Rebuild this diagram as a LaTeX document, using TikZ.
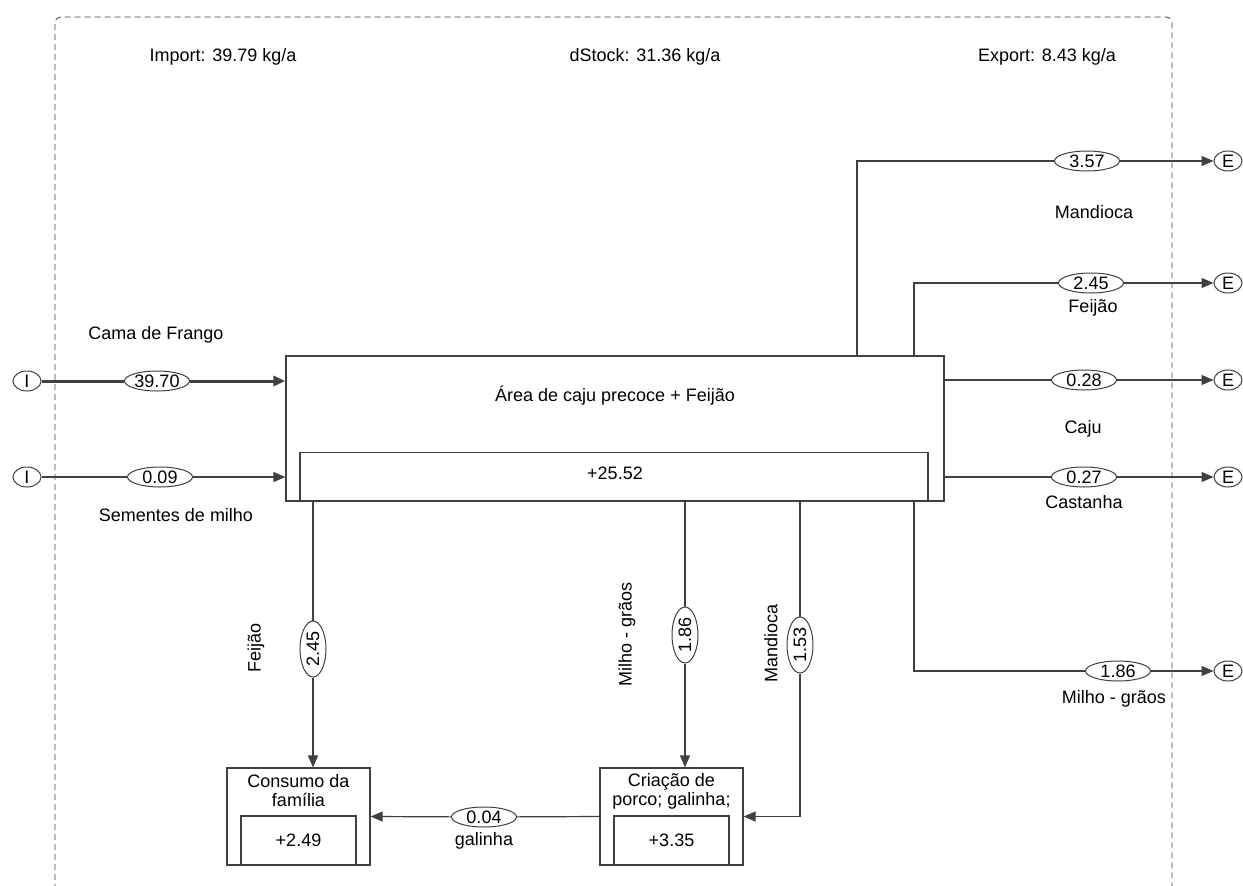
\documentclass[tikz,border=0pt]{standalone}
\usepackage{fontspec}
\setmainfont{Liberation Sans}
\usetikzlibrary{arrows.meta,calc,shapes.geometric}
\definecolor{LineClr}{rgb}{0.25,0.25,0.25}

\tikzset{
  flow/.style={draw=LineClr,line width=1.2pt},
  flowto/.style={flow,-{Triangle[length=12pt,width=10pt]}},
  val/.style={ellipse,draw=LineClr,line width=1pt,fill=white,inner sep=0pt,
    minimum width=65pt,minimum height=20pt},
  vval/.style={val,rotate=90,minimum width=56pt,minimum height=26pt},
  term/.style={ellipse,draw=LineClr,line width=1pt,inner sep=0pt,
    minimum width=28pt,minimum height=20pt},
  proc/.style={draw=LineClr,line width=1.2pt,minimum width=143pt,minimum height=97pt},
  stock/.style={draw=LineClr,line width=1.2pt,anchor=south,
    minimum width=115pt,minimum height=49pt},
  lbl/.style={inner sep=0pt}
}

\begin{document}
\begin{tikzpicture}[x=1pt,y=-1pt,font=\fontsize{18}{19}\selectfont]
\useasboundingbox (0,0) rectangle (1243,886);

\draw[LineClr,line width=0.8pt,dash pattern=on 6pt off 4pt,rounded corners=6pt]
  (55,900) -- (55,17) -- (1172,17) -- (1172,900);

\node[lbl] (imp) at (223,57) {Import: 39.79 kg/a};
\node[lbl] (dst) at (645,57) {dStock: 31.36 kg/a};
\node[lbl] (exp) at (1047,57) {Export: 8.43 kg/a};

% processes
\node[proc,minimum width=658pt,minimum height=145pt] (area) at (615,428.5) {};
\node[lbl] (areatitle) at (615,396) {Área de caju precoce + Feijão};
\node[stock,minimum width=628pt,minimum height=48pt] (areastock) at (614,501) {};
\node[lbl] (areaval) at (615,473) {+25.52};

\node[proc] (cons) at (298.5,816.5) {};
\node[lbl,align=center] (constitle) at (298.5,791) {Consumo da\\família};
\node[stock] (consstock) at (cons.south) {+2.49};

\node[proc] (cria) at (671.5,816.5) {};
\node[lbl,align=center] (criatitle) at (671.5,791) {Criação de\\porco; galinha;};
\node[stock] (criastock) at (cria.south) {+3.35};

% imports
\node[term] (I1) at (27,381) {I};
\node[term] (I2) at (27,477) {I};
\node[val] (vcama) at (157,381) {39.70};
\node[val] (vsem) at (160,477) {0.09};
\node[lbl] (lcama) at (156,335) {Cama de Frango};
\node[lbl] (lsem) at (176,515) {Sementes de milho};

\draw[flow,line width=3pt] (I1) -- (vcama);
\draw[flowto,line width=3pt] (vcama) -- (vcama -| area.west);
\draw[flow] (I2) -- (vsem);
\draw[flowto] (vsem) -- (vsem -| area.west);

% exports
\node[term] (E1) at (1228,161) {E};
\node[term] (E2) at (1228,283) {E};
\node[term] (E3) at (1228,380) {E};
\node[term] (E4) at (1228,477) {E};
\node[term] (E5) at (1228,671) {E};
\node[val] (vmand) at (1087,161) {3.57};
\node[val] (vfeij) at (1091,283) {2.45};
\node[val] (vcaju) at (1084,380) {0.28};
\node[val] (vcast) at (1084,477) {0.27};
\node[val] (vmilho) at (1118,671) {1.86};
\node[lbl] (lmand) at (1094,212) {Mandioca};
\node[lbl] (lfeij) at (1093,308) {Feijão};
\node[lbl] (lcaju) at (1083,429) {Caju};
\node[lbl] (lcast) at (1084,502) {Castanha};
\node[lbl] (lmilho) at (1114,699) {Milho - grãos};
\coordinate (ex1) at (857,161);
\coordinate (ex2) at (914,283);
\coordinate (ex5) at (914,671);

\draw[flow] (ex1 |- area.north) |- (vmand);
\draw[flowto] (vmand) -- (E1);
\draw[flow] (ex2 |- area.north) |- (vfeij);
\draw[flowto] (vfeij) -- (E2);
\draw[flow] (vcaju -| area.east) -- (vcaju);
\draw[flowto] (vcaju) -- (E3);
\draw[flow] (vcast -| area.east) -- (vcast);
\draw[flowto] (vcast) -- (E4);
\draw[flow] (ex5 |- area.south) |- (vmilho);
\draw[flowto] (vmilho) -- (E5);

% internal flows
\node[vval] (vcons) at (313,649) {2.45};
\node[vval] (vporc) at (685,635) {1.86};
\node[vval] (vmandi) at (800,645) {1.53};
\node[val] (vgal) at (484,817) {0.04};
\node[lbl,rotate=90] (lcons) at (256,648) {Feijão};
\node[lbl,rotate=90] (lporc) at (627,634) {Milho - grãos};
\node[lbl,rotate=90] (lmandi) at (771,643) {Mandioca};
\node[lbl] (lgal) at (484,841) {galinha};

\draw[flow] (vcons |- area.south) -- (vcons);
\draw[flowto] (vcons) -- (vcons |- cons.north);
\draw[flow] (vporc |- area.south) -- (vporc);
\draw[flowto] (vporc) -- (vporc |- cria.north);
\draw[flow] (vmandi |- area.south) -- (vmandi);
\draw[flowto] (vmandi) |- (cria.east);
\draw[flow] (cria.west) -- (vgal);
\draw[flowto] (vgal) -- (cons.east);
\end{tikzpicture}
\end{document}
